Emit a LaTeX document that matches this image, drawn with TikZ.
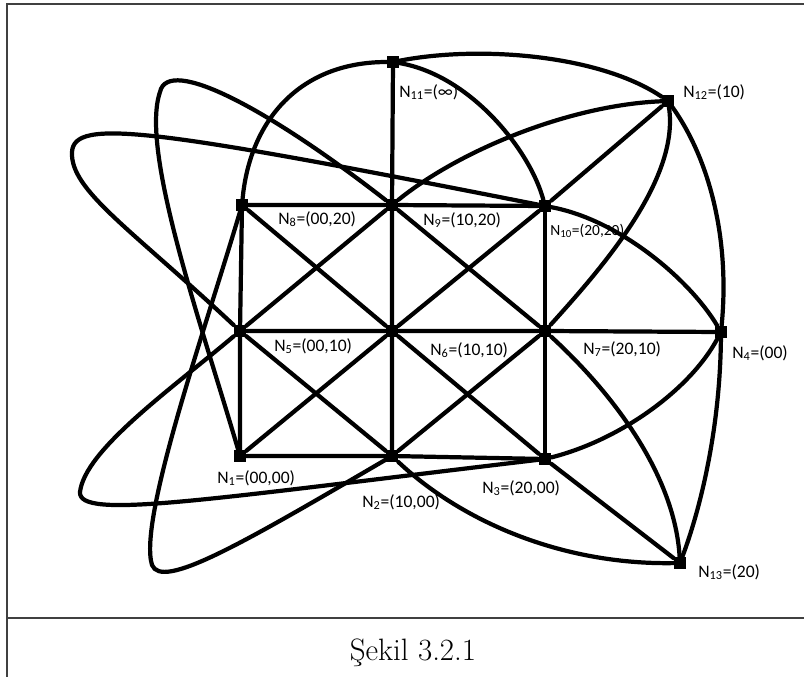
\documentclass[tikz,border=0pt]{standalone}
\usepackage{fontspec}
\newfontfamily\labfont{Carlito}
\newcommand{\nlab}[2]{N\textsubscript{#1}=#2}
\begin{document}
\begin{tikzpicture}[x=0.025cm, y=-0.025cm,
  vtx/.style={fill=black,rectangle,minimum size=0.3cm,inner sep=0pt},
  edge/.style={line width=3pt,line cap=round,line join=round},
  lab/.style={font=\labfont\fontsize{12.5}{14}\selectfont,anchor=west,inner sep=0pt}]
\useasboundingbox (0,0) rectangle (804,677);
\draw[line width=0.9pt,black!75] (7,677) -- (7,4) -- (804,4) (7,618) -- (804,618);
\node[font=\fontsize{22}{26}\selectfont,anchor=base] (cap) at (413,660) {Şekil 3.2.1};
\node[vtx] (n1) at (240,456) {};
\node[vtx] (n2) at (392,456) {};
\node[vtx] (n3) at (545,459) {};
\node[vtx] (n4) at (721,332) {};
\node[vtx] (n5) at (240,331) {};
\node[vtx] (n6) at (392,331) {};
\node[vtx] (n7) at (545,331) {};
\node[vtx] (n8) at (242,205) {};
\node[vtx] (n9) at (392,205) {};
\node[vtx] (n10) at (545,206) {};
\node[vtx] (n11) at (393,62) {};
\node[vtx] (n12) at (668,101) {};
\node[vtx] (n13) at (680,563) {};
\draw[edge] (n8) -- (n9) -- (n10); \draw[edge] (n5) -- (n6) -- (n7) -- (n4); \draw[edge] (n1) -- (n2) -- (n3);
\draw[edge] (n8) -- (n5) -- (n1); \draw[edge] (n11) -- (n9) -- (n6) -- (n2); \draw[edge] (n10) -- (n7) -- (n3);
\draw[edge] (n8) -- (n6); \draw[edge] (n9) -- (n5); \draw[edge] (n9) -- (n7); \draw[edge] (n10) -- (n6);
\draw[edge] (n5) -- (n2); \draw[edge] (n6) -- (n1); \draw[edge] (n6) -- (n3); \draw[edge] (n7) -- (n2);
\draw[edge] (n10) -- (n12); \draw[edge] (n3) -- (n13);
\draw[edge] (n11) .. controls (480,45) and (600,55) .. (n12);
\draw[edge] (n11) .. controls (300,62) and (250,120) .. (n8);
\draw[edge] (n11) .. controls (470,75) and (530,150) .. (n10);
\draw[edge] (n9) .. controls (460,150) and (570,105) .. (n12);
\draw[edge] (n12) .. controls (680,180) and (600,270) .. (n7);
\draw[edge] (n12) .. controls (710,160) and (730,240) .. (n4);
\draw[edge] (n10) .. controls (620,220) and (690,280) .. (n4);
\draw[edge] (n3) .. controls (620,440) and (690,390) .. (n4);
\draw[edge] (n7) .. controls (620,400) and (675,480) .. (n13);
\draw[edge] (n4) .. controls (720,430) and (700,510) .. (n13);
\draw[edge] (n2) .. controls (460,520) and (560,565) .. (n13);
\draw[edge] (n1) .. controls (200,320) and (140,150) .. (160,92) .. controls (168,55) and (270,110) .. (n9);
\draw[edge] (n5) .. controls (130,228) and (70,190) .. (72,152) .. controls (74,118) and (150,128) .. (n10);
\draw[edge] (n8) .. controls (205,330) and (138,520) .. (152,565) .. controls (162,590) and (240,545) .. (n2);
\draw[edge] (n5) .. controls (170,390) and (85,450) .. (80,492) .. controls (78,520) and (200,500) .. (n3);
\node[lab] (l1) at (217,478) {\nlab{1}{(00,00)}};
\node[lab] (l2) at (362,502) {\nlab{2}{(10,00)}};
\node[lab] (l3) at (482,488) {\nlab{3}{(20,00)}};
\node[lab] (l4) at (732,353) {\nlab{4}{(00)}};
\node[lab] (l5) at (274,346) {\nlab{5}{(00,10)}};
\node[lab] (l6) at (430,350) {\nlab{6}{(10,10)}};
\node[lab] (l7) at (583,349) {\nlab{7}{(20,10)}};
\node[lab] (l8) at (278,219) {\nlab{8}{(00,20)}};
\node[lab] (l9) at (423,220) {\nlab{9}{(10,20)}};
\node[lab,font=\labfont\fontsize{11}{12}\selectfont] (l10) at (550,231) {\nlab{10}{(20,20)}};
\node[lab] (l11) at (399,92) {\nlab{11}{(∞)}};
\node[lab] (l12) at (683,92) {\nlab{12}{(10)}};
\node[lab] (l13) at (698,572) {\nlab{13}{(20)}};
\end{tikzpicture}
\end{document}
